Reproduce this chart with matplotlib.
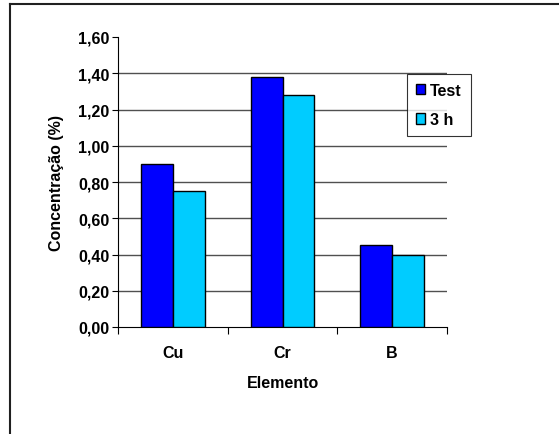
import matplotlib

matplotlib.use("Agg")

import matplotlib.pyplot as plt
import numpy as np
from matplotlib.lines import Line2D
from matplotlib.ticker import FuncFormatter, MultipleLocator

plt.rcParams["font.family"] = ["Liberation Sans", "DejaVu Sans"]
plt.rcParams["font.weight"] = "bold"

elements = ["Cu", "Cr", "B"]
test_values = [0.90, 1.38, 0.45]
three_h_values = [0.75, 1.28, 0.40]
series_names = ["Test", "3 h"]

W, H = 559, 435
FS = 11.5
fig = plt.figure(figsize=(W / 100, H / 100), dpi=100, facecolor="white")
ax = fig.add_axes([118 / W, 1 - 328 / H, (447 - 118) / W, (328 - 38) / H])

x = np.arange(len(elements))
width = 0.29
ax.bar(x - width / 2, test_values, width, color="#0000FF", edgecolor="black", linewidth=1, label=series_names[0], zorder=3)
ax.bar(x + width / 2, three_h_values, width, color="#00CCFF", edgecolor="black", linewidth=1, label=series_names[1], zorder=3)

ax.set_xlim(-0.5, len(elements) - 0.5)
ax.set_ylim(0, 1.6)
ax.yaxis.set_major_locator(MultipleLocator(0.2))
ax.yaxis.set_major_formatter(FuncFormatter(lambda v, _: f"{v:.2f}".replace(".", ",")))
for v in np.arange(0.2, 1.5, 0.2):
    ax.axhline(v, color="#505050", linewidth=1, zorder=1)

# category ticks sit on the boundaries, labels in the middle
ax.set_xticks(np.arange(len(elements) + 1) - 0.5)
ax.set_xticklabels([])
ax.set_xticks(x, minor=True)
ax.set_xticklabels(elements, minor=True)
ax.tick_params(axis="x", which="major", length=5, direction="out", color="black")
ax.tick_params(axis="x", which="minor", length=0, pad=13, labelsize=FS)
ax.tick_params(axis="y", length=4, direction="out", labelsize=FS, pad=2)

for side in ("top", "right"):
    ax.spines[side].set_visible(False)
ax.spines["left"].set_color("black")
ax.spines["bottom"].set_color("black")

ax.set_xlabel("Elemento", fontsize=FS, fontweight="bold", labelpad=11)
ax.set_ylabel("Concentração (%)", fontsize=FS, fontweight="bold", labelpad=10)

leg = ax.legend(loc="upper left", bbox_to_anchor=((407 - 118) / (447 - 118), (328 - 75) / (328 - 38)),
                frameon=True, fancybox=False, edgecolor="black", fontsize=FS,
                handlelength=0.6, handleheight=0.6, handletextpad=0.3, labelspacing=0.9,
                borderpad=0.55, borderaxespad=0)
leg.get_frame().set_linewidth(0.8)
leg.set_zorder(5)
for text in leg.get_texts():
    text.set_fontweight("bold")

# outer chart border (top and left edges)
fig.add_artist(Line2D([10 / W, 1], [1 - 5 / H, 1 - 5 / H], color="#202020", linewidth=1.5))
fig.add_artist(Line2D([10 / W, 10 / W], [0, 1 - 5 / H], color="#202020", linewidth=1.5))

fig.savefig("out.png", dpi=100, facecolor="white")
